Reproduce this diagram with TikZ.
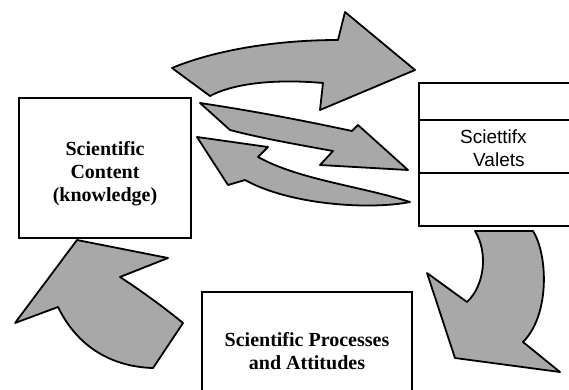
\documentclass[tikz,border=0pt]{standalone}
\usepackage{fontspec}
\setmainfont{Liberation Serif}
\newfontfamily\valuesfont{Liberation Sans}
\usepackage{xcolor}
\usepackage{tikz}
\definecolor{stipple}{gray}{0.66}

\begin{document}
\begin{tikzpicture}[x=1pt, y=-1pt,
      box/.style={draw, line width=1.6pt, inner sep=0pt},
      boldtext/.style={font=\fontsize{20}{23}\selectfont\bfseries, align=center, inner sep=0pt},
      bigarrow/.style={draw, fill=stipple, line width=1.8pt, line join=round}]
    \useasboundingbox (0,0) rectangle (569,389);
    \node[box, minimum width=172pt, minimum height=140pt] (content) at (105,168) {};
    \node[boldtext] (contenttext) at (105,174) {Scientific\\Content\\(knowledge)};
    \node[box, minimum width=156pt, minimum height=37pt] (valtop) at (497,101.5) {};
    \node[box, minimum width=156pt, minimum height=53pt] (valmid) at (497,146.5) {};
    \node[box, minimum width=156pt, minimum height=53pt] (valbot) at (497,199.5) {};
    \node[anchor=west, inner sep=0pt, align=left, font=\valuesfont\fontsize{19}{23}\selectfont]
      (valtext) at (460,148) {Sciettifx\\\hspace*{13pt}Valets};
    \node[box, minimum width=210pt, minimum height=110pt] (process) at (307,347) {};
    \node[boldtext] (processtext) at (307,351) {Scientific Processes\\and Attitudes};
    \draw[bigarrow] (172,68) .. controls (210,52) and (270,40) .. (338,40) -- (345,12) -- (415,70)
      -- (320,110) -- (323,83) .. controls (290,80) and (240,80) .. (210,96) -- cycle;
    \draw[bigarrow] (200,103) .. controls (260,112) and (310,122) .. (352,131) -- (358,125) -- (408,170)
      -- (320,165) -- (333,151) .. controls (300,145) and (260,138) .. (230,130) -- cycle;
    \draw[bigarrow] (197,137) -- (268,147) -- (258,157) .. controls (300,180) and (360,186) .. (410,202)
      .. controls (370,210) and (290,205) .. (245,180) -- (228,185) -- cycle;
    \draw[bigarrow] (475,231) -- (533,231) .. controls (548,255) and (550,315) .. (523,342) -- (560,372)
      -- (455,358) -- (427,273) -- (467,302) .. controls (485,285) and (488,252) .. (475,231) -- cycle;
    \draw[bigarrow] (77,240) -- (168,258) -- (120,277) .. controls (140,290) and (165,308) .. (183,323)
      -- (153,368) .. controls (118,367) and (80,352) .. (58,307) -- (15,323) -- cycle;
  \end{tikzpicture}
\end{document}
